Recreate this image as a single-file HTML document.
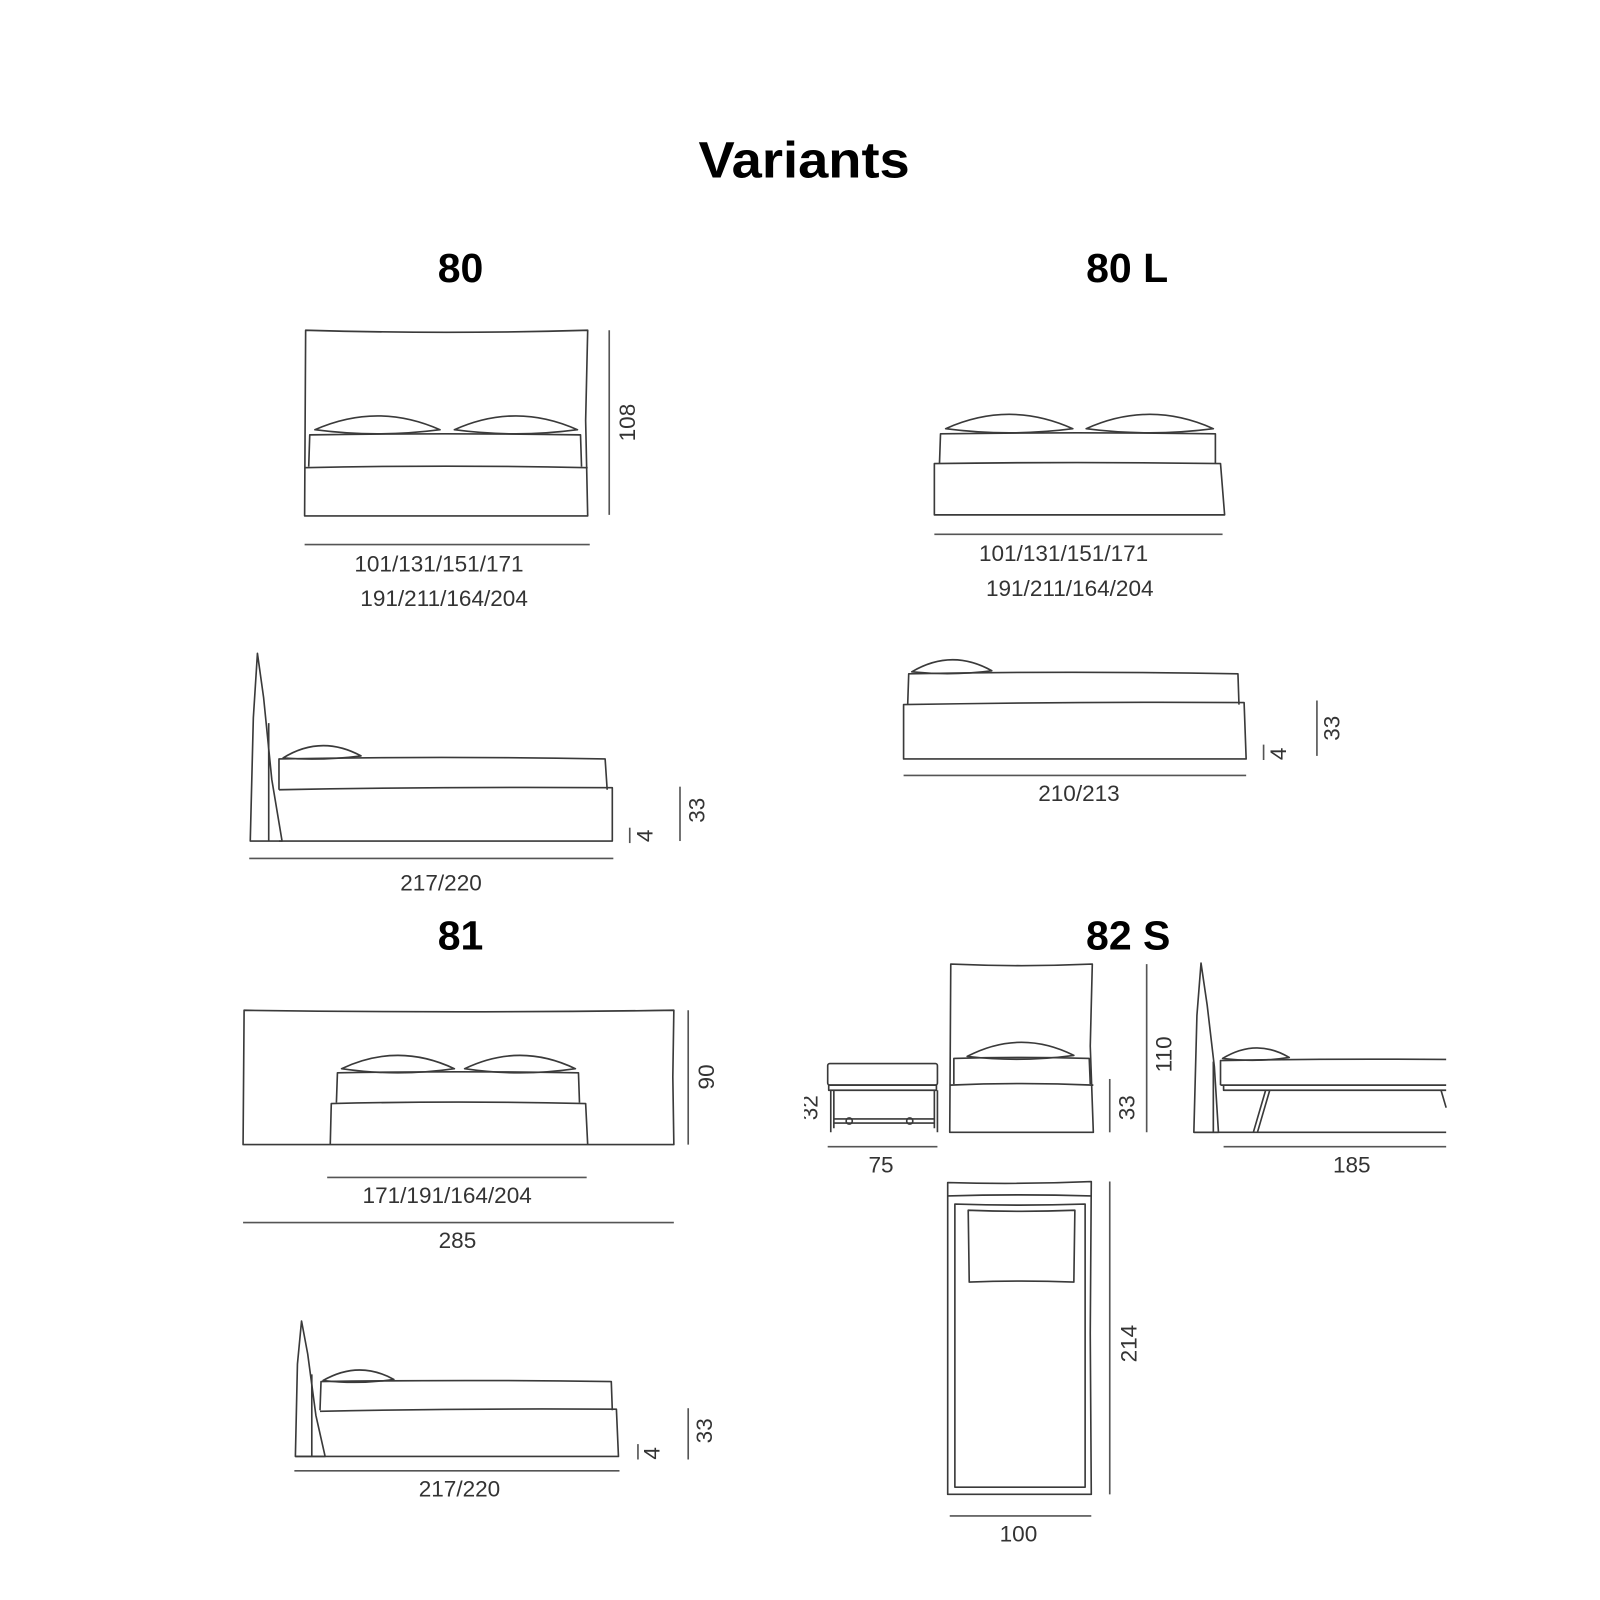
<!DOCTYPE html>
<html><head><meta charset="utf-8"><style>
html,body{margin:0;padding:0;background:#fff;}
svg{display:block;}
.s{fill:none;stroke:#3a3a3a;stroke-width:1.6;stroke-linejoin:round;}
.d{stroke:#555;stroke-width:1.6;}
.t{font-family:"Liberation Sans",sans-serif;font-size:22px;fill:#333;text-anchor:middle;}
.h{font-family:"Liberation Sans",sans-serif;font-weight:bold;fill:#000;text-anchor:middle;}
</style></head><body>
<svg width="1600" height="1600" viewBox="0 0 1560 1560" xmlns="http://www.w3.org/2000/svg">
<text class="h" x="784" y="173" font-size="50" textLength="206" lengthAdjust="spacingAndGlyphs">Variants</text>
<text class="h" x="449" y="275" font-size="40">80</text>
<text class="h" x="1099" y="275" font-size="40">80 L</text>
<text class="h" x="449" y="926" font-size="40">81</text>
<text class="h" x="1100" y="926" font-size="40">82 S</text>

<!-- 80 front -->
<path class="s" d="M297,503 L298,322 Q435,326 573,322 L571,410 L573,503 Z"/>
<path class="s" d="M301,455 L302,424 Q434,422 566,424 L567,455"/>
<path class="s" d="M297,456 Q435,453 573,456"/>
<path class="s" d="M307,419 Q368,392 429,419 Q368,427 307,419 Z"/>
<path class="s" d="M443,419 Q503,392 563,419 Q503,427 443,419 Z"/>
<line class="d" x1="594" y1="322" x2="594" y2="502"/>
<text class="t" transform="translate(619,412) rotate(-90)">108</text>
<line class="d" x1="297" y1="531" x2="575" y2="531"/>
<text class="t" x="428" y="557">101/131/151/171</text>
<text class="t" x="433" y="591">191/211/164/204</text>

<!-- 80 side -->
<path class="s" d="M244,820 L247,700 L251,637 L257,680 L265,760 L275,820 Z"/>
<line class="s" x1="262" y1="820" x2="262" y2="705"/>
<path class="s" d="M272,770 L272,740 Q430,737 590,740 L592,770"/>
<path class="s" d="M272,770 Q430,767 597,768 L597,820 L272,820"/>
<path class="s" d="M276,739 Q313,716 352,737 Q313,742 276,739 Z"/>
<line class="d" x1="243" y1="837" x2="598" y2="837"/>
<text class="t" x="430" y="868">217/220</text>
<text class="t" transform="translate(636,815) rotate(-90)">4</text>
<line class="d" x1="614" y1="807" x2="614" y2="822"/>
<line class="d" x1="663" y1="767" x2="663" y2="820"/>
<text class="t" transform="translate(687,790) rotate(-90)">33</text>

<!-- 80L front -->
<path class="s" d="M916,452 L917,423 Q1050,421 1185,423 L1185,452"/>
<path class="s" d="M911,452 Q1050,450 1190,452 L1194,502 L911,502 Z"/>
<path class="s" d="M922,418 Q984,390 1046,418 Q984,426 922,418 Z"/>
<path class="s" d="M1059,418 Q1121,390 1183,418 Q1121,426 1059,418 Z"/>
<line class="d" x1="911" y1="521" x2="1192" y2="521"/>
<text class="t" x="1037" y="547">101/131/151/171</text>
<text class="t" x="1043" y="581">191/211/164/204</text>

<!-- 80L side -->
<path class="s" d="M885,687 L886,657 Q1045,654 1207,657 L1208,687"/>
<path class="s" d="M881,687 Q1045,684 1213,685 L1215,740 L881,740 Z"/>
<path class="s" d="M889,655 Q928,632 967,654 Q928,659 889,655 Z"/>
<line class="d" x1="881" y1="756" x2="1215" y2="756"/>
<text class="t" x="1052" y="781">210/213</text>
<text class="t" transform="translate(1254,735) rotate(-90)">4</text>
<line class="d" x1="1232" y1="726" x2="1232" y2="741"/>
<line class="d" x1="1284" y1="683" x2="1284" y2="737"/>
<text class="t" transform="translate(1306,710) rotate(-90)">33</text>

<!-- 81 front -->
<path class="s" d="M237,1116 L238,985 Q447,988 657,985 L656,1050 L657,1116 Z"/>
<path class="s" d="M328,1075 L329,1046 Q446,1044 564,1046 L565,1075"/>
<path class="s" d="M322,1116 L323,1076 Q447,1073 571,1076 L573,1116"/>
<path class="s" d="M333,1042 Q388,1016 443,1042 Q388,1050 333,1042 Z"/>
<path class="s" d="M453,1042 Q507,1016 561,1042 Q507,1050 453,1042 Z"/>
<line class="d" x1="671" y1="985" x2="671" y2="1116"/>
<text class="t" transform="translate(696,1050) rotate(-90)">90</text>
<line class="d" x1="319" y1="1148" x2="572" y2="1148"/>
<text class="t" x="436" y="1173">171/191/164/204</text>
<line class="d" x1="237" y1="1192" x2="657" y2="1192"/>
<text class="t" x="446" y="1217">285</text>

<!-- 81 side -->
<path class="s" d="M288,1420 L290,1330 L294,1288 L300,1320 L308,1380 L317,1420 Z"/>
<line class="s" x1="304" y1="1420" x2="304" y2="1340"/>
<path class="s" d="M312,1375 L313,1347 Q455,1345 596,1347 L597,1375"/>
<path class="s" d="M312,1376 Q455,1373 601,1374 L603,1420 L288,1420"/>
<path class="s" d="M315,1346 Q350,1326 384,1345 Q350,1350 315,1346 Z"/>
<line class="d" x1="287" y1="1434" x2="604" y2="1434"/>
<text class="t" x="448" y="1459">217/220</text>
<text class="t" transform="translate(643,1417) rotate(-90)">4</text>
<line class="d" x1="622" y1="1408" x2="622" y2="1423"/>
<line class="d" x1="671" y1="1373" x2="671" y2="1423"/>
<text class="t" transform="translate(694,1395) rotate(-90)">33</text>

<!-- 82S nightstand -->
<rect class="s" x="807" y="1037" width="107" height="21" rx="2"/>
<rect class="s" x="808" y="1058" width="105" height="5"/>
<path class="s" d="M810,1063 L810,1104 M914,1063 L914,1104 M813,1063 L813,1100 M911,1063 L911,1100"/>
<path class="s" d="M813,1091 L911,1091 M813,1095 L911,1095"/>
<circle class="s" cx="828" cy="1093" r="3"/><circle class="s" cx="887" cy="1093" r="3"/>
<text class="t" transform="translate(797,1080) rotate(-90)" font-size="20">32</text>
<rect x="760" y="1060" width="24" height="40" fill="#fff"/>
<line class="d" x1="807" y1="1118" x2="914" y2="1118"/>
<text class="t" x="859" y="1143">75</text>

<!-- 82S single front -->
<path class="s" d="M926,1104 L927,940 Q996,943 1065,940 L1063,1020 L1066,1104 Z"/>
<path class="s" d="M930,1057 L930,1032 Q996,1030 1062,1032 L1063,1057"/>
<path class="s" d="M926,1058 Q996,1055 1066,1058"/>
<path class="s" d="M943,1030 Q995,1003 1047,1029 Q995,1036 943,1030 Z"/>
<line class="d" x1="1082" y1="1052" x2="1082" y2="1104"/>
<text class="t" transform="translate(1106,1080) rotate(-90)">33</text>
<line class="d" x1="1118" y1="940" x2="1118" y2="1104"/>
<text class="t" transform="translate(1142,1028) rotate(-90)">110</text>

<!-- 82S side -->
<path class="s" d="M1164,1104 L1167,990 L1171,939 L1177,980 L1184,1040 L1188,1104 Z"/>
<line class="s" x1="1183" y1="1104" x2="1183" y2="1035"/>
<path class="s" d="M1190,1058 L1190,1034 Q1300,1032 1410,1033 M1190,1058 L1410,1058"/>
<path class="s" d="M1193,1058 L1193,1063 L1410,1063"/>
<path class="s" d="M1192,1032 Q1225,1012 1257,1031 Q1225,1036 1192,1032 Z"/>
<path class="s" d="M1234,1063 L1222,1104 M1238,1063 L1226,1104"/>
<path class="s" d="M1405,1063 L1410,1080"/>
<line class="s" x1="1164" y1="1104" x2="1410" y2="1104"/>
<line class="d" x1="1193" y1="1118" x2="1410" y2="1118"/>
<text class="t" x="1318" y="1143">185</text>

<!-- 82S top -->
<path class="s" d="M924,1457 L924,1153 Q994,1155 1064,1152 L1063,1300 L1064,1457 Z"/>
<path class="s" d="M924,1166 Q994,1164 1064,1166"/>
<path class="s" d="M931,1450 L931,1174 Q994,1176 1058,1174 L1058,1450 Z"/>
<path class="s" d="M944,1180 Q996,1182 1048,1180 L1047,1250 Q996,1248 945,1250 Z"/>
<line class="d" x1="1082" y1="1152" x2="1082" y2="1457"/>
<text class="t" transform="translate(1108,1310) rotate(-90)">214</text>
<line class="d" x1="926" y1="1478" x2="1064" y2="1478"/>
<text class="t" x="993" y="1503">100</text>
</svg>
</body></html>
